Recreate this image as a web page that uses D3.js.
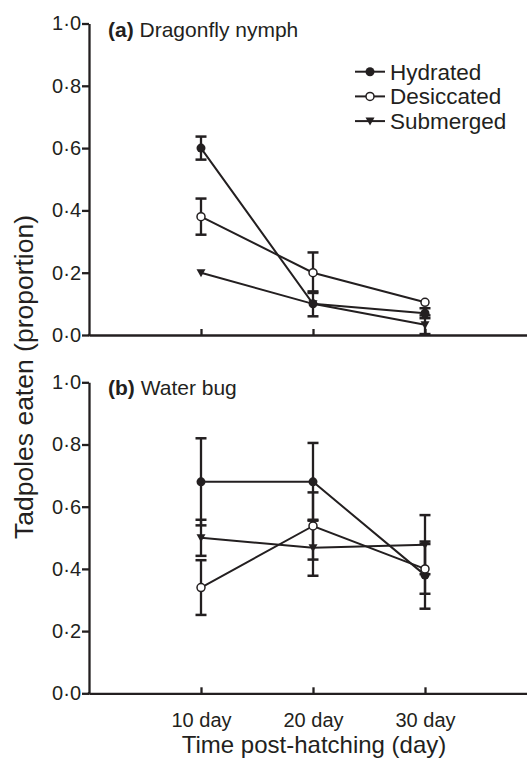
<html>
<script src="https://d3js.org/d3.v7.min.js"></script>
<style>
    body { margin: 0; background: white; }
    text { font-family: "Liberation Sans", Arial, sans-serif; fill: #231f20; }
</style>
<body>
<svg id="chart" width="527" height="759"></svg>
<script>
    // categories along the x axis
    const days = ["10 day", "20 day", "30 day"];
    const yTicks = [0, 0.2, 0.4, 0.6, 0.8, 1.0];
    const seriesNames = ["Hydrated", "Desiccated", "Submerged"];

    // (a) Dragonfly nymph - means and standard errors
    const hydratedA = [0.60, 0.10, 0.07];
    const hydratedAse = [0.037, 0.04, 0.016];
    const desiccatedA = [0.38, 0.20, 0.105];
    const desiccatedAse = [0.058, 0.065, 0];
    const submergedA = [0.20, 0.10, 0.033];
    const submergedAse = [0, 0, 0.03];

    // (b) Water bug
    const hydratedB = [0.68, 0.68, 0.38];
    const hydratedBse = [0.14, 0.125, 0.108];
    const desiccatedB = [0.34, 0.538, 0.40];
    const desiccatedBse = [0.088, 0.108, 0.08];
    const submergedB = [0.50, 0.468, 0.478];
    const submergedBse = [0.058, 0.09, 0.095];

    const ink = "#231f20";
    const svg = d3.select("#chart");

    // x positions: index 1..3 for the three ages
    const x = d3.scaleLinear().domain([0, 4]).range([89, 537]);
    const fmt = d => d3.format(".1f")(d).replace(".", "\u00b7");

    function drawPanel(top, bottom, label, title, series, showXLabels) {
        const y = d3.scaleLinear().domain([0, 1]).range([bottom, top]);
        const g = svg.append("g");

        // y axis
        const ya = g.append("g")
            .attr("transform", "translate(" + x(0) + ",0)")
            .call(d3.axisLeft(y).tickValues(yTicks).tickFormat(fmt).tickSize(7).tickSizeOuter(0).tickPadding(1));
        ya.selectAll("path, line").attr("stroke", ink).attr("stroke-width", 2.3);
        ya.selectAll("text").attr("font-size", 20).attr("fill", ink)
            .style("font-family", "'Liberation Sans', Arial, sans-serif");

        // x axis, ticks pointing inward
        const xa = g.append("g")
            .attr("transform", "translate(0," + bottom + ")")
            .call(d3.axisBottom(x).tickValues([1, 2, 3]).tickSize(-6).tickSizeOuter(0)
                .tickFormat((d, i) => showXLabels ? days[i] : ""));
        xa.selectAll("path, line").attr("stroke", ink).attr("stroke-width", 2.3);
        xa.selectAll("text").attr("font-size", 20).attr("fill", ink).attr("y", 20)
            .style("font-family", "'Liberation Sans', Arial, sans-serif");
        // join the corner of the two axes
        g.append("line").attr("x1", x(0) - 1.15).attr("x2", x(0) + 1).attr("y1", bottom).attr("y2", bottom)
            .attr("stroke", ink).attr("stroke-width", 2.3);

        // panel label
        const pl = g.append("text").attr("x", 108).attr("y", top + 13).attr("font-size", 21);
        pl.append("tspan").attr("font-weight", "bold").text(label + " ");
        pl.append("tspan").text(title);

        const line = d3.line().x((d, i) => x(i + 1)).y(d => y(d));

        series.forEach(s => {
            g.append("path").datum(s.values).attr("d", line)
                .attr("fill", "none").attr("stroke", ink).attr("stroke-width", 2);
        });

        series.forEach(s => {
            s.values.forEach((v, i) => {
                const e = s.se[i];
                if (e <= 0) return;
                const cx = x(i + 1);
                g.append("line").attr("x1", cx).attr("x2", cx).attr("y1", y(v - e)).attr("y2", y(v + e))
                    .attr("stroke", ink).attr("stroke-width", 2.3);
                [v - e, v + e].forEach(w => {
                    g.append("line").attr("x1", cx - 5.5).attr("x2", cx + 5.5).attr("y1", y(w)).attr("y2", y(w))
                        .attr("stroke", ink).attr("stroke-width", 2.5);
                });
            });
        });

        series.forEach(s => {
            s.values.forEach((v, i) => drawMarker(g, s.name, x(i + 1), y(v)));
        });
    }

    function drawMarker(g, name, cx, cy) {
        if (name == "Hydrated") {
            g.append("circle").attr("cx", cx).attr("cy", cy).attr("r", 4.5).attr("fill", ink);
        } else if (name == "Desiccated") {
            g.append("circle").attr("cx", cx).attr("cy", cy).attr("r", 4).attr("fill", "white")
                .attr("stroke", ink).attr("stroke-width", 1.5);
        } else {
            g.append("path").attr("d", "M" + (cx - 4.5) + "," + (cy - 3.5) + "L" + (cx + 4.5) + "," + (cy - 3.5) + "L" + cx + "," + (cy + 4.5) + "Z")
                .attr("fill", ink);
        }
    }

    drawPanel(23.5, 335, "(a)", "Dragonfly nymph", [
        { name: "Hydrated", values: hydratedA, se: hydratedAse },
        { name: "Desiccated", values: desiccatedA, se: desiccatedAse },
        { name: "Submerged", values: submergedA, se: submergedAse }
    ], false);

    drawPanel(382.3, 693.3, "(b)", "Water bug", [
        { name: "Hydrated", values: hydratedB, se: hydratedBse },
        { name: "Desiccated", values: desiccatedB, se: desiccatedBse },
        { name: "Submerged", values: submergedB, se: submergedBse }
    ], true);

    // legend
    const legend = svg.append("g");
    seriesNames.forEach((n, i) => {
        const ly = 71.7 + i * 24.7;
        legend.append("line").attr("x1", 355).attr("x2", 385).attr("y1", ly).attr("y2", ly)
            .attr("stroke", ink).attr("stroke-width", 2);
        drawMarker(legend, n, 370, ly);
        legend.append("text").attr("x", 390).attr("y", ly + 8).attr("font-size", 22.5).text(n);
    });

    // axis titles
    svg.append("text").attr("x", 314).attr("y", 753).attr("text-anchor", "middle")
        .attr("font-size", 24).text("Time post-hatching (day)");
    svg.append("text").attr("transform", "translate(33,377) rotate(-90)").attr("text-anchor", "middle")
        .attr("font-size", 26.5).text("Tadpoles eaten (proportion)");
</script>
</body>
</html>
